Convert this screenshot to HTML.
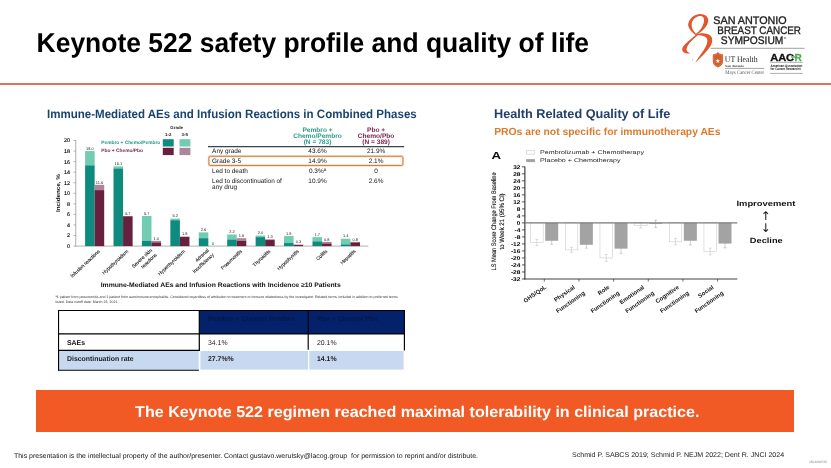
<!DOCTYPE html>
<html lang="en"><head><meta charset="utf-8"><title>Keynote 522 safety profile and quality of life</title>
<style>
html,body{margin:0;padding:0;background:#fff;overflow:hidden;}
*{text-rendering:geometricPrecision;}
body{width:831px;height:468px;position:relative;overflow:hidden;font-family:"Liberation Sans", sans-serif;color:#000;}
.abs{position:absolute;white-space:nowrap;line-height:1;}
h1{margin:0;font-size:26.45px;font-weight:bold;left:36.6px;top:30.2px;letter-spacing:0;transform-origin:0 22px;transform:scaleY(1.03);}
.rule{position:absolute;left:0;top:83px;width:831px;height:2px;background:#d8745b;}
h2{margin:0;font-weight:bold;transform-origin:0 0;}
#h-left{left:47.0px;top:108.1px;font-size:12.1px;color:#1a4470;transform:scaleX(0.953);}
#h-right{left:494.0px;top:108.4px;font-size:12.7px;color:#23406a;}
#h-sub{left:494.2px;top:127.65px;font-size:10.33px;color:#dc7a2c;font-weight:bold;}
#banner{position:absolute;left:36px;top:390px;width:758px;height:42px;background:#f15a24;color:#fff;font-weight:bold;font-size:15.5px;}
#banner span{position:absolute;left:1.2px;width:760.5px;top:15.1px;line-height:1;text-align:center;white-space:nowrap;transform:scaleX(1.038);}
#foot1{left:13.8px;top:453.8px;font-size:6.85px;color:#111;transform-origin:0 0;transform:scaleX(1.017);}
#foot2{left:572.4px;top:452.9px;font-size:6.9px;color:#222;transform-origin:0 0;transform:scaleX(1.025);}
#foot3{left:815.5px;top:453.6px;font-size:2.6px;color:#888;}
table#t2{position:absolute;left:58px;top:310px;border-collapse:collapse;border-spacing:0;font-size:7.1px;table-layout:fixed;width:346.5px;z-index:2;line-height:1;}
#t2 td,#t2 th{padding:0 0 0 8.7px;text-align:left;white-space:nowrap;overflow:hidden;vertical-align:top;border:none;}
#t2 th{height:24px;color:#0a1642;font-weight:bold;padding-top:6.4px;box-sizing:border-box;}
#t2 span{display:inline-block;transform-origin:0 50%;transform:scaleX(0.972);}
#t2 tr.r1 td{height:16.5px;padding-top:5.7px;box-sizing:border-box;color:#222;}
#t2 tr.r1 td.c1{font-weight:bold;color:#111;}
#t2 tr.r2 td{height:19.5px;padding-top:5.9px;box-sizing:border-box;font-weight:bold;color:#1a1a1a;}
svg#art{position:absolute;left:0;top:0;}
</style></head>
<body>
<h1 class="abs">Keynote 522 safety profile and quality of life</h1>
<div class="rule"></div>
<h2 class="abs" id="h-left">Immune-Mediated AEs and Infusion Reactions in Combined Phases</h2>
<h2 class="abs" id="h-right">Health Related Quality of Life</h2>
<div class="abs" id="h-sub">PROs are not specific for immunotherapy AEs</div>
<table id="t2">
<colgroup><col style="width:141.3px"><col style="width:109.2px"><col style="width:96px"></colgroup>
<tr><th class="c1"></th><th><span>Pembro + Chemo/ Pembro</span></th><th><span>Pbo + Chemo/ Pbo</span></th></tr>
<tr class="r1"><td class="c1"><span>SAEs</span></td><td><span>34.1%</span></td><td><span>20.1%</span></td></tr>
<tr class="r2"><td class="c1"><span>Discontinuation rate</span></td><td><span>27.7%%</span></td><td class="c3"><span>14.1%</span></td></tr>
</table>
<div id="banner"><span>The Keynote 522 regimen reached maximal tolerability in clinical practice.</span></div>
<div class="abs" id="foot1">This presentation is the intellectual property of the author/presenter. Contact gustavo.werutsky@lacog.group&nbsp; for permission to reprint and/or distribute.</div>
<div class="abs" id="foot2">Schmid P. SABCS 2019; Schmid P. NEJM 2022; Dent R. JNCI 2024</div>
<svg id="art" width="831" height="468" viewBox="0 0 831 468" font-family='"Liberation Sans", sans-serif'>
<line x1="75.75" y1="140.00" x2="75.75" y2="246.50" stroke="#9a9a9a" stroke-width="0.8"/>
<line x1="75.35" y1="246.10" x2="368.30" y2="246.10" stroke="#a8a8a8" stroke-width="0.9"/>
<line x1="73.45" y1="246.10" x2="75.75" y2="246.10" stroke="#8a8a8a" stroke-width="0.6"/>
<text x="69.9" y="248.05" font-size="5.4" fill="#000" text-anchor="end" stroke="#000" stroke-width="0.12">0</text>
<line x1="73.45" y1="235.54" x2="75.75" y2="235.54" stroke="#8a8a8a" stroke-width="0.6"/>
<text x="69.9" y="237.49" font-size="5.4" fill="#000" text-anchor="end" stroke="#000" stroke-width="0.12">2</text>
<line x1="73.45" y1="224.98" x2="75.75" y2="224.98" stroke="#8a8a8a" stroke-width="0.6"/>
<text x="69.9" y="226.93" font-size="5.4" fill="#000" text-anchor="end" stroke="#000" stroke-width="0.12">4</text>
<line x1="73.45" y1="214.42" x2="75.75" y2="214.42" stroke="#8a8a8a" stroke-width="0.6"/>
<text x="69.9" y="216.37" font-size="5.4" fill="#000" text-anchor="end" stroke="#000" stroke-width="0.12">6</text>
<line x1="73.45" y1="203.86" x2="75.75" y2="203.86" stroke="#8a8a8a" stroke-width="0.6"/>
<text x="69.9" y="205.81" font-size="5.4" fill="#000" text-anchor="end" stroke="#000" stroke-width="0.12">8</text>
<line x1="73.45" y1="193.30" x2="75.75" y2="193.30" stroke="#8a8a8a" stroke-width="0.6"/>
<text x="69.9" y="195.25" font-size="5.4" fill="#000" text-anchor="end" stroke="#000" stroke-width="0.12">10</text>
<line x1="73.45" y1="182.74" x2="75.75" y2="182.74" stroke="#8a8a8a" stroke-width="0.6"/>
<text x="69.9" y="184.69" font-size="5.4" fill="#000" text-anchor="end" stroke="#000" stroke-width="0.12">12</text>
<line x1="73.45" y1="172.18" x2="75.75" y2="172.18" stroke="#8a8a8a" stroke-width="0.6"/>
<text x="69.9" y="174.13" font-size="5.4" fill="#000" text-anchor="end" stroke="#000" stroke-width="0.12">14</text>
<line x1="73.45" y1="161.62" x2="75.75" y2="161.62" stroke="#8a8a8a" stroke-width="0.6"/>
<text x="69.9" y="163.57" font-size="5.4" fill="#000" text-anchor="end" stroke="#000" stroke-width="0.12">16</text>
<line x1="73.45" y1="151.06" x2="75.75" y2="151.06" stroke="#8a8a8a" stroke-width="0.6"/>
<text x="69.9" y="153.01" font-size="5.4" fill="#000" text-anchor="end" stroke="#000" stroke-width="0.12">18</text>
<line x1="73.45" y1="140.50" x2="75.75" y2="140.50" stroke="#8a8a8a" stroke-width="0.6"/>
<text x="69.9" y="142.45" font-size="5.4" fill="#000" text-anchor="end" stroke="#000" stroke-width="0.12">20</text>
<text transform="translate(60.4 193.1) rotate(-90)" font-size="5.7" fill="#111" font-weight="bold" text-anchor="middle" textLength="38" lengthAdjust="spacingAndGlyphs">Incidence, %</text>
<rect x="85.10" y="151.06" width="9.55" height="14.26" fill="#70cdb1"/>
<rect x="85.10" y="165.32" width="9.55" height="80.78" fill="#0f8b7e"/>
<rect x="94.65" y="184.85" width="9.55" height="5.28" fill="#ad859a"/>
<rect x="94.65" y="190.13" width="9.55" height="55.97" fill="#69203f"/>
<text x="89.88" y="149.76" font-size="3.9" fill="#222" text-anchor="middle">18.0</text>
<text x="99.42" y="183.55" font-size="3.9" fill="#222" text-anchor="middle">11.6</text>
<text transform="translate(100.35 251.7) rotate(-43)" font-size="4.9" fill="#1a1a1a" text-anchor="end" stroke="#1a1a1a" stroke-width="0.1">Infusion reactions</text>
<rect x="113.52" y="166.37" width="9.55" height="2.11" fill="#70cdb1"/>
<rect x="113.52" y="168.48" width="9.55" height="77.62" fill="#0f8b7e"/>
<rect x="123.07" y="216.00" width="9.55" height="0.26" fill="#ad859a"/>
<rect x="123.07" y="216.27" width="9.55" height="29.83" fill="#69203f"/>
<text x="118.3" y="165.07" font-size="3.9" fill="#222" text-anchor="middle">15.1</text>
<text x="127.84" y="214.7" font-size="3.9" fill="#222" text-anchor="middle">5.7</text>
<text transform="translate(128.77 251.7) rotate(-43)" font-size="4.9" fill="#1a1a1a" text-anchor="end" stroke="#1a1a1a" stroke-width="0.1">Hypothyroidism</text>
<rect x="141.94" y="216.00" width="9.55" height="24.82" fill="#70cdb1"/>
<rect x="141.94" y="240.82" width="9.55" height="5.28" fill="#0f8b7e"/>
<rect x="151.49" y="240.82" width="9.55" height="1.58" fill="#ad859a"/>
<rect x="151.49" y="242.40" width="9.55" height="3.70" fill="#69203f"/>
<text x="146.72" y="214.7" font-size="3.9" fill="#222" text-anchor="middle">5.7</text>
<text x="156.26" y="239.52" font-size="3.9" fill="#222" text-anchor="middle">1.0</text>
<text transform="translate(152.39 250.8) rotate(-43)" font-size="4.9" fill="#1a1a1a" text-anchor="end" stroke="#1a1a1a" stroke-width="0.1">Severe skin</text>
<text transform="translate(157.39 255.2) rotate(-43)" font-size="4.9" fill="#1a1a1a" text-anchor="end" stroke="#1a1a1a" stroke-width="0.1">reactions</text>
<rect x="170.36" y="218.64" width="9.55" height="1.58" fill="#70cdb1"/>
<rect x="170.36" y="220.23" width="9.55" height="25.87" fill="#0f8b7e"/>
<rect x="179.91" y="236.60" width="9.55" height="0.26" fill="#ad859a"/>
<rect x="179.91" y="236.86" width="9.55" height="9.24" fill="#69203f"/>
<text x="175.14" y="217.34" font-size="3.9" fill="#222" text-anchor="middle">5.2</text>
<text x="184.69" y="235.3" font-size="3.9" fill="#222" text-anchor="middle">1.8</text>
<text transform="translate(185.61 251.7) rotate(-43)" font-size="4.9" fill="#1a1a1a" text-anchor="end" stroke="#1a1a1a" stroke-width="0.1">Hyperthyroidism</text>
<rect x="198.78" y="232.37" width="9.55" height="5.81" fill="#70cdb1"/>
<rect x="198.78" y="238.18" width="9.55" height="7.92" fill="#0f8b7e"/>
<text x="203.56" y="231.07" font-size="3.9" fill="#222" text-anchor="middle">2.6</text>
<text x="213.1" y="244.8" font-size="3.9" fill="#222" text-anchor="middle">0</text>
<text transform="translate(209.23 250.8) rotate(-43)" font-size="4.9" fill="#1a1a1a" text-anchor="end" stroke="#1a1a1a" stroke-width="0.1">Adrenal</text>
<text transform="translate(214.23 255.2) rotate(-43)" font-size="4.9" fill="#1a1a1a" text-anchor="end" stroke="#1a1a1a" stroke-width="0.1">insufficiency</text>
<rect x="227.20" y="234.48" width="9.55" height="5.02" fill="#70cdb1"/>
<rect x="227.20" y="239.50" width="9.55" height="6.60" fill="#0f8b7e"/>
<rect x="236.75" y="238.18" width="9.55" height="2.64" fill="#ad859a"/>
<rect x="236.75" y="240.82" width="9.55" height="5.28" fill="#69203f"/>
<text x="231.98" y="233.18" font-size="3.9" fill="#222" text-anchor="middle">2.2</text>
<text x="241.53" y="236.88" font-size="3.9" fill="#222" text-anchor="middle">1.5</text>
<text transform="translate(242.45 251.7) rotate(-43)" font-size="4.9" fill="#1a1a1a" text-anchor="end" stroke="#1a1a1a" stroke-width="0.1">Pneumonitis</text>
<rect x="255.62" y="235.54" width="9.55" height="1.58" fill="#70cdb1"/>
<rect x="255.62" y="237.12" width="9.55" height="8.98" fill="#0f8b7e"/>
<rect x="265.17" y="239.24" width="9.55" height="0.79" fill="#ad859a"/>
<rect x="265.17" y="240.03" width="9.55" height="6.07" fill="#69203f"/>
<text x="260.39" y="234.24" font-size="3.9" fill="#222" text-anchor="middle">2.0</text>
<text x="269.94" y="237.94" font-size="3.9" fill="#222" text-anchor="middle">1.3</text>
<text transform="translate(270.87 251.7) rotate(-43)" font-size="4.9" fill="#1a1a1a" text-anchor="end" stroke="#1a1a1a" stroke-width="0.1">Thyroiditis</text>
<rect x="284.04" y="236.07" width="9.55" height="6.97" fill="#70cdb1"/>
<rect x="284.04" y="243.04" width="9.55" height="3.06" fill="#0f8b7e"/>
<rect x="293.59" y="244.52" width="9.55" height="0.42" fill="#ad859a"/>
<rect x="293.59" y="244.94" width="9.55" height="1.16" fill="#69203f"/>
<text x="288.81" y="234.77" font-size="3.9" fill="#222" text-anchor="middle">1.9</text>
<text x="298.36" y="243.22" font-size="3.9" fill="#222" text-anchor="middle">0.3</text>
<text transform="translate(299.29 251.7) rotate(-43)" font-size="4.9" fill="#1a1a1a" text-anchor="end" stroke="#1a1a1a" stroke-width="0.1">Hypophysitis</text>
<rect x="312.46" y="237.12" width="9.55" height="4.22" fill="#70cdb1"/>
<rect x="312.46" y="241.35" width="9.55" height="4.75" fill="#0f8b7e"/>
<rect x="322.01" y="241.88" width="9.55" height="1.58" fill="#ad859a"/>
<rect x="322.01" y="243.46" width="9.55" height="2.64" fill="#69203f"/>
<text x="317.24" y="235.82" font-size="3.9" fill="#222" text-anchor="middle">1.7</text>
<text x="326.79" y="240.58" font-size="3.9" fill="#222" text-anchor="middle">0.8</text>
<text transform="translate(327.71 251.7) rotate(-43)" font-size="4.9" fill="#1a1a1a" text-anchor="end" stroke="#1a1a1a" stroke-width="0.1">Colitis</text>
<rect x="340.88" y="238.71" width="9.55" height="5.70" fill="#70cdb1"/>
<rect x="340.88" y="244.41" width="9.55" height="1.69" fill="#0f8b7e"/>
<rect x="350.43" y="241.88" width="9.55" height="0.53" fill="#ad859a"/>
<rect x="350.43" y="242.40" width="9.55" height="3.70" fill="#69203f"/>
<text x="345.65" y="237.41" font-size="3.9" fill="#222" text-anchor="middle">1.4</text>
<text x="355.2" y="240.58" font-size="3.9" fill="#222" text-anchor="middle">0.8</text>
<text transform="translate(356.13 251.7) rotate(-43)" font-size="4.9" fill="#1a1a1a" text-anchor="end" stroke="#1a1a1a" stroke-width="0.1">Hepatitis</text>
<text x="176.7" y="129.0" font-size="4.4" fill="#222" font-weight="bold" text-anchor="middle">Grade</text>
<text x="168.2" y="135.9" font-size="4.4" fill="#222" font-weight="bold" text-anchor="middle">1-2</text>
<text x="184.8" y="135.9" font-size="4.4" fill="#222" font-weight="bold" text-anchor="middle">3-5</text>
<rect x="162.80" y="139.20" width="10.90" height="7.30" fill="#0f8b7e"/>
<rect x="179.50" y="139.20" width="10.90" height="7.30" fill="#70cdb1"/>
<rect x="162.80" y="147.80" width="10.90" height="7.30" fill="#69203f"/>
<rect x="179.50" y="147.80" width="10.90" height="7.30" fill="#ad859a"/>
<text x="101.3" y="143.7" font-size="4.9" fill="#209684" font-weight="bold" textLength="58.9" lengthAdjust="spacingAndGlyphs">Pembro + Chemo/Pembro</text>
<text x="101.3" y="152.4" font-size="4.9" fill="#7a2350" font-weight="bold" textLength="41.7" lengthAdjust="spacingAndGlyphs">Pbo + Chemo/Pbo</text>
<text x="100.7" y="286.9" font-size="6.5" fill="#111" font-weight="bold" textLength="240" lengthAdjust="spacingAndGlyphs">Immune-Mediated AEs and Infusion Reactions with Incidence ≥10 Patients</text>
<text x="55.4" y="298.2" font-size="3.5" fill="#333" textLength="342.3" lengthAdjust="spacingAndGlyphs">ª1 patient from pneumonitis and 1 patient from autoimmune encephalitis. Considered regardless of attribution to treatment or immune relatedness by the investigator. Related terms included in addition to preferred terms</text>
<text x="55.4" y="302.7" font-size="3.5" fill="#333" textLength="63" lengthAdjust="spacingAndGlyphs">listed. Data cutoff date: March 23, 2021.</text>
<text x="317.5" y="131.9" font-size="6.6" fill="#2b9c8c" font-weight="bold" text-anchor="middle">Pembro +</text>
<text x="317.5" y="138.0" font-size="6.6" fill="#2b9c8c" font-weight="bold" text-anchor="middle">Chemo/Pembro</text>
<text x="317.5" y="144.0" font-size="6.6" fill="#2b9c8c" font-weight="bold" text-anchor="middle">(N = 783)</text>
<text x="376.1" y="131.9" font-size="6.6" fill="#7a2350" font-weight="bold" text-anchor="middle">Pbo +</text>
<text x="376.1" y="138.0" font-size="6.6" fill="#7a2350" font-weight="bold" text-anchor="middle">Chemo/Pbo</text>
<text x="376.1" y="144.0" font-size="6.6" fill="#7a2350" font-weight="bold" text-anchor="middle">(N = 389)</text>
<line x1="208.00" y1="146.65" x2="404.20" y2="146.65" stroke="#3a4352" stroke-width="1.15"/>
<text x="212.1" y="153.3" font-size="6.45" fill="#151515">Any grade</text>
<text x="317.5" y="153.3" font-size="6.45" fill="#151515" text-anchor="middle">43.6%</text>
<text x="376.1" y="153.3" font-size="6.45" fill="#151515" text-anchor="middle">21.9%</text>
<text x="212.1" y="162.9" font-size="6.45" fill="#151515">Grade 3-5</text>
<text x="317.5" y="162.9" font-size="6.45" fill="#151515" text-anchor="middle">14.9%</text>
<text x="376.1" y="162.9" font-size="6.45" fill="#151515" text-anchor="middle">2.1%</text>
<text x="212.1" y="172.7" font-size="6.45" fill="#151515">Led to death</text>
<text x="317.5" y="172.7" font-size="6.45" fill="#151515" text-anchor="middle">0.3%ª</text>
<text x="376.1" y="172.7" font-size="6.45" fill="#151515" text-anchor="middle">0</text>
<text x="212.1" y="182.9" font-size="6.45" fill="#151515">Led to discontinuation of</text>
<text x="317.5" y="182.9" font-size="6.45" fill="#151515" text-anchor="middle">10.9%</text>
<text x="376.1" y="182.9" font-size="6.45" fill="#151515" text-anchor="middle">2.6%</text>
<text x="212.1" y="189.2" font-size="6.45" fill="#151515">any drug</text>
<rect x="208.85" y="156.3" width="194.1" height="9.2" rx="1.6" fill="none" stroke="#e8a77a" stroke-width="2.4" opacity="0.4"/>
<rect x="208.85" y="156.3" width="194.1" height="9.2" rx="1.6" fill="none" stroke="#d9782f" stroke-width="0.95"/>
<rect x="199.30" y="310.50" width="205.10" height="23.40" fill="#04226c"/>
<rect x="58.50" y="350.90" width="140.20" height="18.90" fill="#c6d9f1"/>
<rect x="200.40" y="351.00" width="107.70" height="18.60" fill="#c6d9f1"/>
<rect x="309.30" y="351.00" width="94.30" height="18.60" fill="#c6d9f1"/>
<line x1="58.00" y1="310.50" x2="405.00" y2="310.50" stroke="#000" stroke-width="1.15"/>
<line x1="58.00" y1="333.90" x2="405.00" y2="333.90" stroke="#000" stroke-width="1.15"/>
<line x1="58.00" y1="350.30" x2="199.90" y2="350.30" stroke="#000" stroke-width="1.15"/>
<line x1="58.00" y1="370.20" x2="198.90" y2="370.20" stroke="#000" stroke-width="1.15"/>
<line x1="58.55" y1="310.00" x2="58.55" y2="370.70" stroke="#000" stroke-width="1.1"/>
<line x1="199.30" y1="310.00" x2="199.30" y2="350.80" stroke="#000" stroke-width="1.2"/>
<line x1="308.20" y1="310.00" x2="308.20" y2="349.80" stroke="#000" stroke-width="1.15"/>
<line x1="404.40" y1="310.00" x2="404.40" y2="350.40" stroke="#000" stroke-width="1.15"/>
<rect x="526.4" y="150.8" width="8.4" height="3.3" fill="#fff" stroke="#bbb" stroke-width="0.5"/>
<rect x="526.20" y="159.10" width="8.80" height="3.00" fill="#a3a3a3"/>
<text x="540.1" y="154.4" font-size="5.4" fill="#222" textLength="103.9" lengthAdjust="spacingAndGlyphs">Pembrolizumab + Chemotherapy</text>
<text x="540.1" y="162.3" font-size="5.4" fill="#222" textLength="80.5" lengthAdjust="spacingAndGlyphs">Placebo + Chemotherapy</text>
<text x="491.4" y="158.6" font-size="10.2" fill="#111" font-weight="bold" textLength="9.6" lengthAdjust="spacingAndGlyphs">A</text>
<line x1="524.90" y1="166.60" x2="524.90" y2="279.40" stroke="#1c1c1c" stroke-width="1.0"/>
<line x1="524.40" y1="279.00" x2="737.30" y2="279.00" stroke="#2a2a2a" stroke-width="0.9"/>
<line x1="521.90" y1="278.96" x2="524.90" y2="278.96" stroke="#222" stroke-width="0.75"/>
<text x="510.9" y="280.91" font-size="5.5" fill="#000" font-weight="bold" textLength="9.5" lengthAdjust="spacingAndGlyphs">-32</text>
<line x1="521.90" y1="271.96" x2="524.90" y2="271.96" stroke="#222" stroke-width="0.75"/>
<text x="510.9" y="273.91" font-size="5.5" fill="#000" font-weight="bold" textLength="9.5" lengthAdjust="spacingAndGlyphs">-28</text>
<line x1="521.90" y1="264.95" x2="524.90" y2="264.95" stroke="#222" stroke-width="0.75"/>
<text x="510.9" y="266.9" font-size="5.5" fill="#000" font-weight="bold" textLength="9.5" lengthAdjust="spacingAndGlyphs">-24</text>
<line x1="521.90" y1="257.94" x2="524.90" y2="257.94" stroke="#222" stroke-width="0.75"/>
<text x="510.9" y="259.89" font-size="5.5" fill="#000" font-weight="bold" textLength="9.5" lengthAdjust="spacingAndGlyphs">-20</text>
<line x1="521.90" y1="250.93" x2="524.90" y2="250.93" stroke="#222" stroke-width="0.75"/>
<text x="510.9" y="252.88" font-size="5.5" fill="#000" font-weight="bold" textLength="9.5" lengthAdjust="spacingAndGlyphs">-16</text>
<line x1="521.90" y1="243.92" x2="524.90" y2="243.92" stroke="#222" stroke-width="0.75"/>
<text x="510.9" y="245.87" font-size="5.5" fill="#000" font-weight="bold" textLength="9.5" lengthAdjust="spacingAndGlyphs">-12</text>
<line x1="521.90" y1="236.92" x2="524.90" y2="236.92" stroke="#222" stroke-width="0.75"/>
<text x="514.5" y="238.87" font-size="5.5" fill="#000" font-weight="bold" textLength="5.9" lengthAdjust="spacingAndGlyphs">-8</text>
<line x1="521.90" y1="229.91" x2="524.90" y2="229.91" stroke="#222" stroke-width="0.75"/>
<text x="514.5" y="231.86" font-size="5.5" fill="#000" font-weight="bold" textLength="5.9" lengthAdjust="spacingAndGlyphs">-4</text>
<line x1="521.90" y1="222.90" x2="524.90" y2="222.90" stroke="#222" stroke-width="0.75"/>
<text x="516.8" y="224.85" font-size="5.5" fill="#000" font-weight="bold" textLength="3.6" lengthAdjust="spacingAndGlyphs">0</text>
<line x1="521.90" y1="215.89" x2="524.90" y2="215.89" stroke="#222" stroke-width="0.75"/>
<text x="516.8" y="217.84" font-size="5.5" fill="#000" font-weight="bold" textLength="3.6" lengthAdjust="spacingAndGlyphs">4</text>
<line x1="521.90" y1="208.88" x2="524.90" y2="208.88" stroke="#222" stroke-width="0.75"/>
<text x="516.8" y="210.83" font-size="5.5" fill="#000" font-weight="bold" textLength="3.6" lengthAdjust="spacingAndGlyphs">8</text>
<line x1="521.90" y1="201.88" x2="524.90" y2="201.88" stroke="#222" stroke-width="0.75"/>
<text x="513.2" y="203.83" font-size="5.5" fill="#000" font-weight="bold" textLength="7.2" lengthAdjust="spacingAndGlyphs">12</text>
<line x1="521.90" y1="194.87" x2="524.90" y2="194.87" stroke="#222" stroke-width="0.75"/>
<text x="513.2" y="196.82" font-size="5.5" fill="#000" font-weight="bold" textLength="7.2" lengthAdjust="spacingAndGlyphs">16</text>
<line x1="521.90" y1="187.86" x2="524.90" y2="187.86" stroke="#222" stroke-width="0.75"/>
<text x="513.2" y="189.81" font-size="5.5" fill="#000" font-weight="bold" textLength="7.2" lengthAdjust="spacingAndGlyphs">20</text>
<line x1="521.90" y1="180.85" x2="524.90" y2="180.85" stroke="#222" stroke-width="0.75"/>
<text x="513.2" y="182.8" font-size="5.5" fill="#000" font-weight="bold" textLength="7.2" lengthAdjust="spacingAndGlyphs">24</text>
<line x1="521.90" y1="173.84" x2="524.90" y2="173.84" stroke="#222" stroke-width="0.75"/>
<text x="513.2" y="175.79" font-size="5.5" fill="#000" font-weight="bold" textLength="7.2" lengthAdjust="spacingAndGlyphs">28</text>
<line x1="521.90" y1="166.84" x2="524.90" y2="166.84" stroke="#222" stroke-width="0.75"/>
<text x="513.2" y="168.79" font-size="5.5" fill="#000" font-weight="bold" textLength="7.2" lengthAdjust="spacingAndGlyphs">32</text>
<rect x="530.65" y="222.90" width="12.50" height="19.45" fill="#fff" stroke="#c4c4c4" stroke-width="0.5"/>
<rect x="545.20" y="222.90" width="13.00" height="17.87" fill="#a3a3a3"/>
<line x1="536.90" y1="239.37" x2="536.90" y2="245.68" stroke="#bdbdbd" stroke-width="0.5"/>
<line x1="535.40" y1="239.37" x2="538.40" y2="239.37" stroke="#bdbdbd" stroke-width="0.5"/>
<line x1="535.40" y1="245.68" x2="538.40" y2="245.68" stroke="#bdbdbd" stroke-width="0.5"/>
<line x1="551.70" y1="237.27" x2="551.70" y2="244.27" stroke="#a0a0a0" stroke-width="0.5"/>
<line x1="550.20" y1="237.27" x2="553.20" y2="237.27" stroke="#a0a0a0" stroke-width="0.5"/>
<line x1="550.20" y1="244.27" x2="553.20" y2="244.27" stroke="#a0a0a0" stroke-width="0.5"/>
<line x1="544.30" y1="279.00" x2="544.30" y2="281.60" stroke="#333" stroke-width="0.7"/>
<text transform="translate(546.8 287.9) rotate(-35)" font-size="5.9" fill="#111" font-weight="bold" text-anchor="end">GHS/QoL</text>
<rect x="565.31" y="222.90" width="12.50" height="26.98" fill="#fff" stroke="#c4c4c4" stroke-width="0.5"/>
<rect x="579.86" y="222.90" width="13.00" height="21.90" fill="#a3a3a3"/>
<line x1="571.56" y1="247.43" x2="571.56" y2="252.33" stroke="#bdbdbd" stroke-width="0.5"/>
<line x1="570.06" y1="247.43" x2="573.06" y2="247.43" stroke="#bdbdbd" stroke-width="0.5"/>
<line x1="570.06" y1="252.33" x2="573.06" y2="252.33" stroke="#bdbdbd" stroke-width="0.5"/>
<line x1="586.36" y1="241.47" x2="586.36" y2="248.13" stroke="#a0a0a0" stroke-width="0.5"/>
<line x1="584.86" y1="241.47" x2="587.86" y2="241.47" stroke="#a0a0a0" stroke-width="0.5"/>
<line x1="584.86" y1="248.13" x2="587.86" y2="248.13" stroke="#a0a0a0" stroke-width="0.5"/>
<line x1="578.96" y1="279.00" x2="578.96" y2="281.60" stroke="#333" stroke-width="0.7"/>
<text transform="translate(575.36 288.2) rotate(-35)" font-size="5.9" fill="#111" font-weight="bold" text-anchor="end">Physical</text>
<text transform="translate(585.36 294.0) rotate(-35)" font-size="5.9" fill="#111" font-weight="bold" text-anchor="end">Functioning</text>
<rect x="599.97" y="222.90" width="12.50" height="35.04" fill="#fff" stroke="#c4c4c4" stroke-width="0.5"/>
<rect x="614.52" y="222.90" width="13.00" height="25.75" fill="#a3a3a3"/>
<line x1="606.22" y1="254.44" x2="606.22" y2="261.44" stroke="#bdbdbd" stroke-width="0.5"/>
<line x1="604.72" y1="254.44" x2="607.72" y2="254.44" stroke="#bdbdbd" stroke-width="0.5"/>
<line x1="604.72" y1="261.44" x2="607.72" y2="261.44" stroke="#bdbdbd" stroke-width="0.5"/>
<line x1="621.02" y1="243.57" x2="621.02" y2="253.38" stroke="#a0a0a0" stroke-width="0.5"/>
<line x1="619.52" y1="243.57" x2="622.52" y2="243.57" stroke="#a0a0a0" stroke-width="0.5"/>
<line x1="619.52" y1="253.38" x2="622.52" y2="253.38" stroke="#a0a0a0" stroke-width="0.5"/>
<line x1="613.62" y1="279.00" x2="613.62" y2="281.60" stroke="#333" stroke-width="0.7"/>
<text transform="translate(610.02 288.2) rotate(-35)" font-size="5.9" fill="#111" font-weight="bold" text-anchor="end">Role</text>
<text transform="translate(620.02 294.0) rotate(-35)" font-size="5.9" fill="#111" font-weight="bold" text-anchor="end">Functioning</text>
<rect x="634.63" y="222.90" width="12.50" height="2.63" fill="#fff" stroke="#c4c4c4" stroke-width="0.5"/>
<rect x="649.18" y="222.90" width="13.00" height="0.88" fill="#a3a3a3"/>
<line x1="640.88" y1="222.55" x2="640.88" y2="228.16" stroke="#bdbdbd" stroke-width="0.5"/>
<line x1="639.38" y1="222.55" x2="642.38" y2="222.55" stroke="#bdbdbd" stroke-width="0.5"/>
<line x1="639.38" y1="228.16" x2="642.38" y2="228.16" stroke="#bdbdbd" stroke-width="0.5"/>
<line x1="655.68" y1="220.10" x2="655.68" y2="227.46" stroke="#a0a0a0" stroke-width="0.5"/>
<line x1="654.18" y1="220.10" x2="657.18" y2="220.10" stroke="#a0a0a0" stroke-width="0.5"/>
<line x1="654.18" y1="227.46" x2="657.18" y2="227.46" stroke="#a0a0a0" stroke-width="0.5"/>
<line x1="648.28" y1="279.00" x2="648.28" y2="281.60" stroke="#333" stroke-width="0.7"/>
<text transform="translate(644.68 288.2) rotate(-35)" font-size="5.9" fill="#111" font-weight="bold" text-anchor="end">Emotional</text>
<text transform="translate(654.68 294.0) rotate(-35)" font-size="5.9" fill="#111" font-weight="bold" text-anchor="end">Functioning</text>
<rect x="669.29" y="222.90" width="12.50" height="18.92" fill="#fff" stroke="#c4c4c4" stroke-width="0.5"/>
<rect x="683.84" y="222.90" width="13.00" height="17.87" fill="#a3a3a3"/>
<line x1="675.54" y1="238.32" x2="675.54" y2="244.98" stroke="#bdbdbd" stroke-width="0.5"/>
<line x1="674.04" y1="238.32" x2="677.04" y2="238.32" stroke="#bdbdbd" stroke-width="0.5"/>
<line x1="674.04" y1="244.98" x2="677.04" y2="244.98" stroke="#bdbdbd" stroke-width="0.5"/>
<line x1="690.34" y1="236.92" x2="690.34" y2="244.98" stroke="#a0a0a0" stroke-width="0.5"/>
<line x1="688.84" y1="236.92" x2="691.84" y2="236.92" stroke="#a0a0a0" stroke-width="0.5"/>
<line x1="688.84" y1="244.98" x2="691.84" y2="244.98" stroke="#a0a0a0" stroke-width="0.5"/>
<line x1="682.94" y1="279.00" x2="682.94" y2="281.60" stroke="#333" stroke-width="0.7"/>
<text transform="translate(679.34 288.2) rotate(-35)" font-size="5.9" fill="#111" font-weight="bold" text-anchor="end">Cognitive</text>
<text transform="translate(689.34 294.0) rotate(-35)" font-size="5.9" fill="#111" font-weight="bold" text-anchor="end">Functioning</text>
<rect x="703.95" y="222.90" width="12.50" height="28.38" fill="#fff" stroke="#c4c4c4" stroke-width="0.5"/>
<rect x="718.50" y="222.90" width="13.00" height="20.67" fill="#a3a3a3"/>
<line x1="710.20" y1="248.13" x2="710.20" y2="254.79" stroke="#bdbdbd" stroke-width="0.5"/>
<line x1="708.70" y1="248.13" x2="711.70" y2="248.13" stroke="#bdbdbd" stroke-width="0.5"/>
<line x1="708.70" y1="254.79" x2="711.70" y2="254.79" stroke="#bdbdbd" stroke-width="0.5"/>
<line x1="725.00" y1="239.37" x2="725.00" y2="247.78" stroke="#a0a0a0" stroke-width="0.5"/>
<line x1="723.50" y1="239.37" x2="726.50" y2="239.37" stroke="#a0a0a0" stroke-width="0.5"/>
<line x1="723.50" y1="247.78" x2="726.50" y2="247.78" stroke="#a0a0a0" stroke-width="0.5"/>
<line x1="717.60" y1="279.00" x2="717.60" y2="281.60" stroke="#333" stroke-width="0.7"/>
<text transform="translate(714.0 288.2) rotate(-35)" font-size="5.9" fill="#111" font-weight="bold" text-anchor="end">Social</text>
<text transform="translate(724.0 294.0) rotate(-35)" font-size="5.9" fill="#111" font-weight="bold" text-anchor="end">Functioning</text>
<line x1="524.90" y1="222.90" x2="737.30" y2="222.90" stroke="#7d7d7d" stroke-width="1.3"/>
<text transform="translate(495.9 221.4) rotate(-90)" font-size="6.5" fill="#111" text-anchor="middle" textLength="98" lengthAdjust="spacingAndGlyphs" stroke="#111" stroke-width="0.12">LS Mean Score Change From Baseline</text>
<text transform="translate(503.9 221.4) rotate(-90)" font-size="6.5" fill="#111" text-anchor="middle" textLength="56" lengthAdjust="spacingAndGlyphs" stroke="#111" stroke-width="0.12">to Week 21  (95% CI)</text>
<text x="765.9" y="205.7" font-size="7.5" fill="#111" font-weight="bold" text-anchor="middle" textLength="58.9" lengthAdjust="spacingAndGlyphs">Improvement</text>
<text x="766.3" y="243.4" font-size="7.5" fill="#111" font-weight="bold" text-anchor="middle" textLength="32.9" lengthAdjust="spacingAndGlyphs">Decline</text>
<text x="765.7" y="219.6" font-size="12" fill="#111" text-anchor="middle" font-family='"DejaVu Sans", sans-serif'>↑</text>
<text x="765.7" y="232.2" font-size="12" fill="#111" text-anchor="middle" font-family='"DejaVu Sans", sans-serif'>↓</text>
<text x="809.0" y="463.1" font-size="3.2" fill="#8c8c8c" textLength="18" lengthAdjust="spacingAndGlyphs">2504009785</text>
<g id="logo">
<g transform="translate(678 10) scale(0.11538)" fill="#e2562b">
<path fill-rule="evenodd" d="M155,219 C125,196 92,165 88,130 C88,85 135,38 185,34 C235,32 268,60 262,98 C256,140 215,186 155,219 Z M156,206 C131,182 117,155 118,128 C120,90 150,56 190,53 C220,52 230,75 225,100 C218,140 194,182 156,206 Z"/>
<path d="M148,214 C190,198 250,192 285,225 C305,250 300,290 270,330 C240,370 200,410 150,457 C170,420 200,385 225,345 C250,305 262,270 250,245 C235,222 200,218 148,214 Z"/>
<path d="M164,210 C128,236 62,288 40,325 C28,350 45,372 75,376 C90,378 102,377 108,373 C90,370 75,360 74,340 C76,308 116,262 172,218 Z"/>
<circle cx="125" cy="432" r="4.2"/>
</g>
<text x="713.3" y="23.5" font-size="11" fill="#1c1c1c" stroke="#1c1c1c" stroke-width="0.34" textLength="73.4" lengthAdjust="spacingAndGlyphs">SAN ANTONIO</text>
<text x="717.3" y="33.7" font-size="11" fill="#1c1c1c" stroke="#1c1c1c" stroke-width="0.34" textLength="83.7" lengthAdjust="spacingAndGlyphs">BREAST CANCER</text>
<text x="720.8" y="43.8" font-size="11" fill="#1c1c1c" stroke="#1c1c1c" stroke-width="0.34" textLength="62.6" lengthAdjust="spacingAndGlyphs">SYMPOSIUM</text>
<text x="784.0" y="38.6" font-size="3" fill="#1c1c1c" font-weight="bold">®</text>
<line x1="710.6" y1="48.3" x2="804.6" y2="48.3" stroke="#a2a2a2" stroke-width="1"/>
<!-- UT Health shield -->
<path d="M717.9,51.9 L719.4,53.5 L723.1,54.5 L723.1,61.4 C723.1,64.4 720.5,66.3 717.9,67.5 C715.3,66.3 712.8,64.4 712.8,61.4 L712.8,54.5 L716.4,53.5 Z" fill="#cf5f2c"/>
<path d="M717.9,53.3 L719.0,54.4 L722.1,55.2 L722.1,61.4 C722.1,63.8 720.0,65.4 717.9,66.4 C715.8,65.4 713.8,63.8 713.8,61.4 L713.8,55.2 L716.8,54.4 Z" fill="none" stroke="#e9a27f" stroke-width="0.35"/>
<path d="M717.85,58.45 L718.44,60.19 L720.28,60.21 L718.80,61.31 L719.35,63.06 L717.85,62.00 L716.35,63.06 L716.90,61.31 L715.42,60.21 L717.26,60.19 Z" fill="#fff"/>
<text x="724.8" y="61.9" font-size="8.4" fill="#222" font-family='"Liberation Serif", serif' textLength="32.8" lengthAdjust="spacingAndGlyphs">UT Health</text>
<text x="725.2" y="66.6" font-size="3.1" fill="#333" font-weight="bold" font-family='"Liberation Serif", serif' textLength="18.9" lengthAdjust="spacingAndGlyphs">San Antonio</text>
<line x1="725.0" y1="68.4" x2="764.2" y2="68.4" stroke="#666" stroke-width="0.6"/>
<text x="725.3" y="73.5" font-size="5.3" fill="#555" font-family='"Liberation Serif", serif' textLength="38.9" lengthAdjust="spacingAndGlyphs">Mays Cancer Center</text>
<!-- AACR -->
<text x="770.2" y="60.5" font-size="10.2" fill="#111" stroke="#111" stroke-width="0.3" font-weight="bold" textLength="23.9" lengthAdjust="spacingAndGlyphs">AAC</text>
<rect x="791.0" y="56.3" width="6.4" height="1.4" fill="#4aae4a"/>
<text x="794.6" y="60.5" font-size="10.2" fill="#4aae4a" stroke="#4aae4a" stroke-width="0.25" font-weight="bold" textLength="7.3" lengthAdjust="spacingAndGlyphs">R</text>
<line x1="770.1" y1="62.3" x2="802.8" y2="62.3" stroke="#777" stroke-width="0.6"/>
<text x="770.5" y="66.5" font-size="3.6" fill="#222" font-weight="bold" textLength="31.9" lengthAdjust="spacingAndGlyphs">American Association</text>
<text x="770.5" y="70.3" font-size="3.6" fill="#222" font-weight="bold" textLength="30.6" lengthAdjust="spacingAndGlyphs">for Cancer Research®</text>
<line x1="770.1" y1="73.4" x2="802.8" y2="73.4" stroke="#777" stroke-width="0.6"/>
</g>

</svg>
</body></html>
